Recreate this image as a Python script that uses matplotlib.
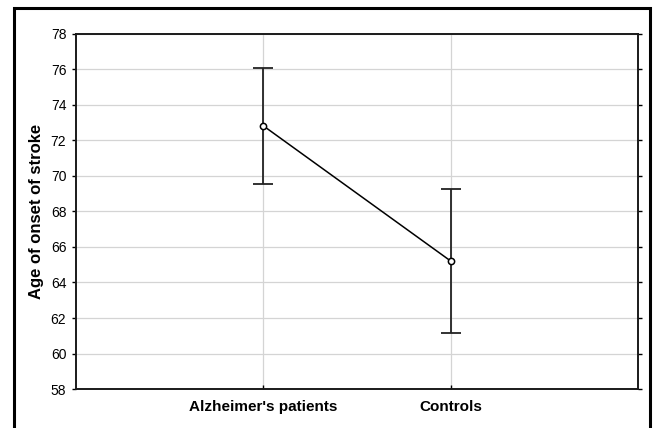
import matplotlib.pyplot as plt
from matplotlib.patches import Rectangle

# group means with error half-widths
groups = ["Alzheimer's patients", "Controls"]
means = [72.82, 65.21]
errs = [3.25, 4.07]
yticks = [58, 60, 62, 64, 66, 68, 70, 72, 74, 76, 78]

plt.rcParams['font.family'] = ['Liberation Sans', 'DejaVu Sans']

fig = plt.figure(figsize=(6.55, 4.28), dpi=100)
ax = fig.add_axes([0.116, 0.091, 0.858, 0.830])

x = list(range(len(groups)))
ax.errorbar(x, means, yerr=errs, fmt='none', ecolor='#222222',
            elinewidth=1.3, capsize=7.5, capthick=1.3, zorder=3)
ax.plot(x, means, color='black', lw=1.1, marker='o', ms=4.5,
        mfc='white', mec='black', mew=1.1, zorder=4)

ax.set_xlim(-1, 2)
ax.set_ylim(58, 78)
ax.set_xticks(x)
ax.set_xticklabels(groups, fontsize=11, fontweight='bold')
ax.set_yticks(yticks)
ax.set_yticklabels([str(t) for t in yticks], fontsize=10)
ax.set_ylabel('Age of onset of stroke', fontsize=12, fontweight='bold', labelpad=5)

ax.grid(True, color='#d4d4d4', lw=0.9)
ax.set_axisbelow(True)
for s in ax.spines.values():
    s.set_linewidth(1.4)
    s.set_color('#1a1a1a')

ax.yaxis.set_ticks_position('both')
ax.tick_params(axis='y', direction='out', length=3, width=1, pad=4)
ax.tick_params(axis='x', direction='in', length=3, width=1, top=False, pad=8)

# outer frame around the whole figure
fig.patches.append(Rectangle((13.5 / 655, -0.05), 636.5 / 655, 1 - 8.5 / 428 + 0.05,
                             transform=fig.transFigure, fill=False,
                             edgecolor='black', lw=2.2))

fig.savefig('out.png', dpi=100)
